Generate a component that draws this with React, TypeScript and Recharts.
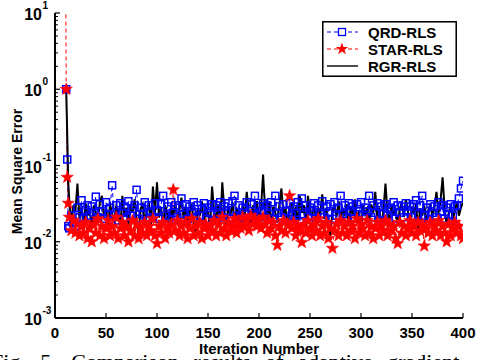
import { LineChart, Line, XAxis, YAxis, Legend } from 'recharts';

const FONT = '"Liberation Sans", Arial, Helvetica, sans-serif';
const SERIF = '"Liberation Serif", "Times New Roman", serif';

// iteration index of each sample
const iterations = [
  10, 11, 12, 13,
  14, 16, 18, 20, 22, 24, 26, 28, 30, 32, 34, 36, 38, 40, 42, 44, 46, 48, 50, 52,
  54, 56, 58, 60, 62, 64, 66, 68, 70, 72, 74, 76, 78, 80, 82, 84, 86, 88, 90, 92,
  94, 96, 98, 100, 102, 104, 106, 108, 110, 112, 114, 116, 118, 120, 122, 124, 126, 128, 130, 132,
  134, 136, 138, 140, 142, 144, 146, 148, 150, 152, 154, 156, 158, 160, 162, 164, 166, 168, 170, 172,
  174, 176, 178, 180, 182, 184, 186, 188, 190, 192, 194, 196, 198, 200, 202, 204, 206, 208, 210, 212,
  214, 216, 218, 220, 222, 224, 226, 228, 230, 232, 234, 236, 238, 240, 242, 244, 246, 248, 250, 252,
  254, 256, 258, 260, 262, 264, 266, 268, 270, 272, 274, 276, 278, 280, 282, 284, 286, 288, 290, 292,
  294, 296, 298, 300, 302, 304, 306, 308, 310, 312, 314, 316, 318, 320, 322, 324, 326, 328, 330, 332,
  334, 336, 338, 340, 342, 344, 346, 348, 350, 352, 354, 356, 358, 360, 362, 364, 366, 368, 370, 372,
  374, 376, 378, 380, 382, 384, 386, 388, 390, 392, 394, 396, 398, 400,
];

const qrdRls = [
  null, 1.0, 0.12, 0.016, 0.015, 0.022, 0.018, 0.016, 0.028, 0.021,
  0.035, 0.02, 0.026, 0.03, 0.022, 0.029, 0.024, 0.039, 0.021, 0.031,
  0.025, 0.02, 0.033, 0.023, 0.028, 0.055, 0.022, 0.03, 0.019, 0.032,
  0.024, 0.029, 0.021, 0.034, 0.022, 0.027, 0.03, 0.048, 0.02, 0.028,
  0.023, 0.033, 0.019, 0.03, 0.025, 0.021, 0.032, 0.026, 0.02, 0.031,
  0.04, 0.022, 0.029, 0.02, 0.033, 0.024, 0.03, 0.021, 0.028, 0.037,
  0.023, 0.031, 0.02, 0.029, 0.025, 0.033, 0.021, 0.03, 0.022, 0.027,
  0.032, 0.02, 0.028, 0.024, 0.031, 0.019, 0.03, 0.023, 0.033, 0.021,
  0.029, 0.025, 0.032, 0.02, 0.034, 0.04, 0.022, 0.03, 0.021, 0.028,
  0.024, 0.033, 0.02, 0.031, 0.023, 0.04, 0.022, 0.029, 0.025, 0.032,
  0.021, 0.03, 0.023, 0.033, 0.02, 0.04, 0.024, 0.029, 0.021, 0.031,
  0.025, 0.02, 0.032, 0.022, 0.029, 0.024, 0.033, 0.018, 0.037, 0.023,
  0.03, 0.021, 0.028, 0.025, 0.032, 0.02, 0.03, 0.023, 0.034, 0.021,
  0.029, 0.024, 0.031, 0.02, 0.033, 0.022, 0.028, 0.04, 0.023, 0.03,
  0.021, 0.032, 0.025, 0.029, 0.02, 0.031, 0.023, 0.033, 0.022, 0.028,
  0.025, 0.04, 0.021, 0.03, 0.024, 0.032, 0.019, 0.029, 0.023, 0.031,
  0.022, 0.028, 0.026, 0.033, 0.02, 0.03, 0.024, 0.029, 0.021, 0.032,
  0.025, 0.029, 0.021, 0.031, 0.035, 0.023, 0.03, 0.04, 0.022, 0.028,
  0.02, 0.031, 0.024, 0.029, 0.021, 0.033, 0.025, 0.03, 0.02, 0.028,
  0.023, 0.031, 0.022, 0.029, 0.03, 0.037, 0.05, 0.063,
];

const starRls = [
  1000, 1.0, 0.07, 0.032, 0.021, 0.014, 0.019, 0.013, 0.017, 0.012,
  0.016, 0.013, 0.018, 0.011, 0.015, 0.01, 0.017, 0.013, 0.02, 0.012,
  0.016, 0.011, 0.015, 0.019, 0.012, 0.016, 0.013, 0.021, 0.011, 0.015,
  0.018, 0.012, 0.016, 0.01, 0.014, 0.019, 0.012, 0.017, 0.011, 0.015,
  0.013, 0.018, 0.012, 0.016, 0.014, 0.02, 0.012, 0.0095, 0.016, 0.013,
  0.018, 0.011, 0.015, 0.013, 0.017, 0.048, 0.014, 0.019, 0.012, 0.016,
  0.013, 0.018, 0.011, 0.015, 0.02, 0.012, 0.016, 0.013, 0.018, 0.011,
  0.015, 0.017, 0.012, 0.016, 0.014, 0.019, 0.012, 0.017, 0.013, 0.021,
  0.015, 0.012, 0.018, 0.014, 0.016, 0.02, 0.013, 0.017, 0.015, 0.021,
  0.016, 0.019, 0.014, 0.022, 0.017, 0.02, 0.016, 0.019, 0.015, 0.021,
  0.017, 0.013, 0.019, 0.015, 0.018, 0.012, 0.009, 0.016, 0.014, 0.019,
  0.013, 0.017, 0.04, 0.015, 0.018, 0.012, 0.016, 0.014, 0.0098, 0.017,
  0.013, 0.019, 0.015, 0.012, 0.017, 0.014, 0.02, 0.012, 0.016, 0.013,
  0.018, 0.011, 0.015, 0.0082, 0.014, 0.017, 0.012, 0.019, 0.013, 0.016,
  0.012, 0.018, 0.014, 0.016, 0.011, 0.02, 0.013, 0.017, 0.015, 0.012,
  0.019, 0.013, 0.016, 0.011, 0.015, 0.018, 0.012, 0.016, 0.014, 0.019,
  0.012, 0.017, 0.014, 0.016, 0.011, 0.0095, 0.018, 0.013, 0.016, 0.012,
  0.015, 0.019, 0.013, 0.016, 0.012, 0.018, 0.014, 0.017, 0.0088, 0.015,
  0.013, 0.018, 0.012, 0.016, 0.014, 0.019, 0.012, 0.016, 0.013, 0.01,
  0.017, 0.012, 0.015, 0.018, 0.013, 0.016, 0.012, 0.011,
];

const rgrRls = [
  null, 1.0, 0.25, 0.06, 0.035, 0.018, 0.03, 0.025, 0.058, 0.02,
  0.028, 0.016, 0.032, 0.022, 0.027, 0.015, 0.03, 0.024, 0.019, 0.033,
  0.04, 0.021, 0.027, 0.016, 0.031, 0.023, 0.018, 0.029, 0.025, 0.015,
  0.04, 0.022, 0.028, 0.017, 0.03, 0.024, 0.036, 0.02, 0.013, 0.027,
  0.031, 0.018, 0.025, 0.033, 0.016, 0.053, 0.024, 0.06, 0.021, 0.028,
  0.016, 0.03, 0.023, 0.012, 0.027, 0.022, 0.033, 0.017, 0.026, 0.038,
  0.02, 0.029, 0.016, 0.024, 0.031, 0.019, 0.012, 0.027, 0.022, 0.034,
  0.018, 0.028, 0.024, 0.015, 0.053, 0.025, 0.02, 0.031, 0.017, 0.06,
  0.026, 0.016, 0.029, 0.022, 0.033, 0.018, 0.027, 0.024, 0.015, 0.03,
  0.022, 0.045, 0.024, 0.017, 0.03, 0.021, 0.034, 0.019, 0.028, 0.076,
  0.027, 0.02, 0.033, 0.016, 0.029, 0.024, 0.018, 0.031, 0.05, 0.022,
  0.028, 0.015, 0.026, 0.033, 0.02, 0.029, 0.017, 0.04, 0.024, 0.03,
  0.016, 0.04, 0.025, 0.021, 0.031, 0.018, 0.027, 0.023, 0.042, 0.02,
  0.028, 0.016, 0.012, 0.026, 0.03, 0.021, 0.034, 0.018, 0.027, 0.023,
  0.031, 0.016, 0.029, 0.022, 0.036, 0.019, 0.026, 0.014, 0.03, 0.023,
  0.027, 0.018, 0.031, 0.024, 0.045, 0.02, 0.028, 0.015, 0.026, 0.058,
  0.024, 0.019, 0.03, 0.022, 0.028, 0.016, 0.027, 0.033, 0.021, 0.036,
  0.025, 0.017, 0.029, 0.023, 0.031, 0.015, 0.027, 0.022, 0.03, 0.018,
  0.026, 0.032, 0.021, 0.028, 0.045, 0.024, 0.035, 0.07, 0.027, 0.016,
  0.024, 0.03, 0.019, 0.026, 0.033, 0.022, 0.028, 0.033,
];

const seriesNames = ['QRD-RLS', 'STAR-RLS', 'RGR-RLS'];
const xTicks = [0, 50, 100, 150, 200, 250, 300, 350, 400];
const yDecades = [0.001, 0.01, 0.1, 1, 10];
const yExponents = ['-3', '-2', '-1', '0', '1'];
const minorSteps = [2, 3, 4, 5, 6, 7, 8, 9];
const yTicks = [
  ...yDecades,
  ...yDecades.slice(0, -1).flatMap((d) => minorSteps.map((m) => m * d)),
];
const caption = 'Fig. 5. Comparison results of adaptive gradient';

const rows = iterations.map((iter, i) => ({
  iter,
  qrd: qrdRls[i],
  star: starRls[i],
  rgr: rgrRls[i],
}));

const decadeIndex = (v: number) => yDecades.findIndex((d) => Math.abs(v / d - 1) < 1e-6);

const LeftTick = (props: any) => {
  const { x, y, payload } = props;
  const k = decadeIndex(payload.value);
  if (k < 0) return <line x1={x} x2={x + 3} y1={y} y2={y} stroke="#000" strokeWidth={1} />;
  return (
    <g>
      <line x1={x} x2={x + 5} y1={y} y2={y} stroke="#000" strokeWidth={1.2} />
      <text x={x - 13} y={y + 7} textAnchor="end" fontFamily={FONT} fontWeight="bold" fontSize={16} fill="#000">
        10
      </text>
      <text x={x - 12.5} y={y - 4.5} fontFamily={FONT} fontWeight="bold" fontSize={10} fill="#000">
        {yExponents[k]}
      </text>
    </g>
  );
};

const RightTick = (props: any) => {
  const { x, y, payload } = props;
  const len = decadeIndex(payload.value) < 0 ? 3 : 5;
  return <line x1={x} x2={x - len} y1={y} y2={y} stroke="#000" strokeWidth={1} />;
};

const BottomTick = (props: any) => {
  const { x, y, payload } = props;
  return (
    <g>
      <line x1={x} x2={x} y1={y} y2={y - 5} stroke="#000" strokeWidth={1.2} />
      <text x={x} y={y + 20} textAnchor="middle" fontFamily={FONT} fontWeight="bold" fontSize={15} fill="#000">
        {payload.value}
      </text>
    </g>
  );
};

const TopTick = (props: any) => {
  const { x, y } = props;
  return <line x1={x} x2={x} y1={y} y2={y + 5} stroke="#000" strokeWidth={1.2} />;
};

const starPath = (cx: number, cy: number, ro: number, ri: number) => {
  const pts: string[] = [];
  for (let i = 0; i < 10; i++) {
    const r = i % 2 === 0 ? ro : ri;
    const a = -Math.PI / 2 + (i * Math.PI) / 5;
    pts.push(`${(cx + r * Math.cos(a)).toFixed(2)},${(cy + r * Math.sin(a)).toFixed(2)}`);
  }
  return `M${pts.join('L')}Z`;
};

const SquareDot = (props: any) => {
  const { cx, cy, index } = props;
  if (cx == null || cy == null) return <g key={`sq-${index}`} />;
  return (
    <rect key={`sq-${index}`} x={cx - 3.5} y={cy - 3.5} width={7} height={7} fill="none" stroke="#0000ff" strokeWidth={1.5} />
  );
};

const StarDot = (props: any) => {
  const { cx, cy, index } = props;
  if (cx == null || cy == null) return <g key={`st-${index}`} />;
  return <path key={`st-${index}`} d={starPath(cx, cy, 6.5, 2.7)} fill="#ff0000" stroke="#ff0000" strokeWidth={0.5} />;
};

const LegendBox = () => (
  <svg width={135} height={56} style={{ display: 'block' }}>
    <rect x={0.75} y={0.75} width={133.5} height={54.5} fill="#fff" stroke="#000" strokeWidth={1.6} />
    {seriesNames.map((name, i) => {
      const cy = 11 + i * 17;
      return (
        <g key={name}>
          {i === 0 && (
            <>
              <line x1={5} x2={36} y1={cy} y2={cy} stroke="#0000ff" strokeWidth={1} strokeDasharray="4 3" />
              <rect x={16.5} y={cy - 3.5} width={7} height={7} fill="#fff" stroke="#0000ff" strokeWidth={1.3} />
            </>
          )}
          {i === 1 && (
            <>
              <line x1={5} x2={36} y1={cy} y2={cy} stroke="#ff0000" strokeWidth={1} strokeDasharray="4 3" />
              <path d={starPath(20, cy, 6.5, 2.6)} fill="#ff0000" />
            </>
          )}
          {i === 2 && <line x1={5} x2={36} y1={cy} y2={cy} stroke="#000" strokeWidth={1.4} />}
          <text x={46} y={cy + 5.5} fontFamily={FONT} fontWeight="bold" fontSize={15} fill="#000">
            {name}
          </text>
        </g>
      );
    })}
  </svg>
);

const XLabel = (props: any) => {
  const { x, y, width } = props.viewBox;
  return (
    <text x={x + width / 2} y={y + 36} textAnchor="middle" fontFamily={FONT} fontWeight="bold" fontSize={15} fill="#000">
      Iteration Number
    </text>
  );
};

const YLabel = (props: any) => {
  const { x, y, height } = props.viewBox;
  const cx = x + 22;
  const cy = y + height / 2 + 6;
  return (
    <text x={cx} y={cy} transform={`rotate(-90 ${cx} ${cy})`} textAnchor="middle" fontFamily={FONT} fontWeight="bold" fontSize={14} fill="#000">
      Mean Square Error
    </text>
  );
};

const axisLine = { stroke: '#000', strokeWidth: 2 };

const App = () => {
  return (
    <div style={{ position: 'absolute', left: 0, top: 0, width: 477, height: 360, overflow: 'hidden', background: '#fff' }}>
      <LineChart width={477} height={360} data={rows} margin={{ top: 13, right: 14, bottom: 0, left: 0 }}>
        <XAxis
          xAxisId="b"
          dataKey="iter"
          type="number"
          domain={[0, 400]}
          ticks={xTicks}
          interval={0}
          allowDataOverflow
          height={42}
          tickSize={0}
          tickMargin={0}
          tickLine={false}
          axisLine={axisLine}
          tick={<BottomTick />}
          label={<XLabel />}
        />
        <XAxis
          xAxisId="t"
          orientation="top"
          dataKey="iter"
          type="number"
          domain={[0, 400]}
          ticks={xTicks}
          interval={0}
          allowDataOverflow
          height={0}
          tickSize={0}
          tickMargin={0}
          tickLine={false}
          axisLine={axisLine}
          tick={<TopTick />}
        />
        <YAxis
          yAxisId="l"
          scale="log"
          type="number"
          domain={[0.001, 10]}
          ticks={yTicks}
          interval={0}
          allowDataOverflow
          width={55}
          tickSize={0}
          tickMargin={0}
          tickLine={false}
          axisLine={axisLine}
          tick={<LeftTick />}
          label={<YLabel />}
        />
        <YAxis
          yAxisId="r"
          orientation="right"
          scale="log"
          type="number"
          domain={[0.001, 10]}
          ticks={yTicks}
          interval={0}
          allowDataOverflow
          width={0}
          tickSize={0}
          tickMargin={0}
          tickLine={false}
          axisLine={axisLine}
          tick={<RightTick />}
        />
        <Line
          xAxisId="b"
          yAxisId="l"
          dataKey="qrd"
          name={seriesNames[0]}
          stroke="#0000ff"
          strokeWidth={1}
          strokeDasharray="4 3"
          dot={SquareDot}
          isAnimationActive={false}
        />
        <Line
          xAxisId="b"
          yAxisId="l"
          dataKey="star"
          name={seriesNames[1]}
          stroke="#ff0000"
          strokeWidth={1}
          strokeDasharray="4 3"
          dot={StarDot}
          isAnimationActive={false}
        />
        <Line
          xAxisId="b"
          yAxisId="l"
          dataKey="rgr"
          name={seriesNames[2]}
          stroke="#000"
          strokeWidth={2}
          dot={false}
          isAnimationActive={false}
        />
        <Legend
          layout="vertical"
          align="center"
          verticalAlign="middle"
          content={<LegendBox />}
          wrapperStyle={{ left: 322, top: 21, width: 135, height: 56 }}
        />
      </LineChart>
      <svg width={477} height={360} style={{ position: 'absolute', left: 0, top: 0, pointerEvents: 'none' }}>
        <text x={-9} y={369} fontFamily={SERIF} fontSize={22} wordSpacing={9} fill="#000">
          {caption}
        </text>
      </svg>
    </div>
  );
};

export default App;
